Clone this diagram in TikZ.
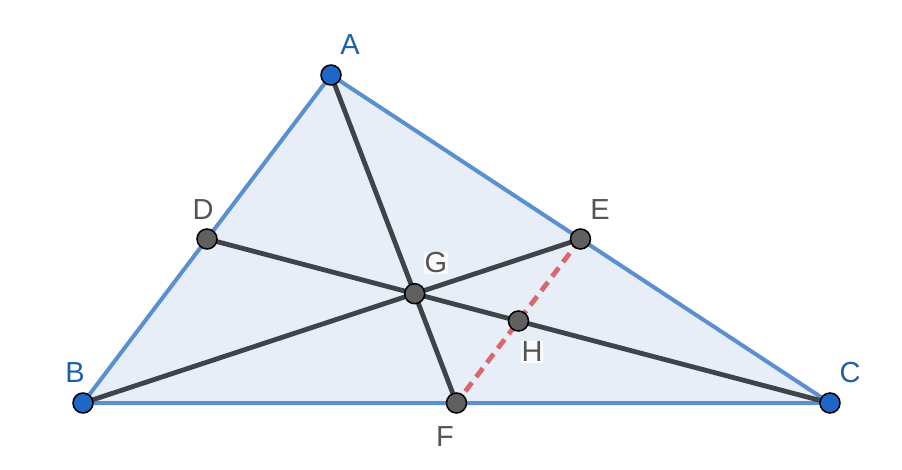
\documentclass[tikz,border=0pt]{standalone}
\usepackage{fontspec}
\setmainfont{Liberation Sans}
\begin{document}
\begin{tikzpicture}[x=1pt,y=-1pt,
  bluept/.style={circle,draw=black,line width=1.5pt,fill=ptblue,inner sep=0pt,minimum size=20pt},
  graypt/.style={circle,draw=black,line width=1.5pt,fill=ptgray,inner sep=0pt,minimum size=20pt},
  side/.style={draw=sideblue,line width=4pt},
  median/.style={draw=medgray,line width=4.8pt},
  lbl/.style={font=\fontsize{29}{32}\selectfont,inner sep=1pt},
  bluelbl/.style={lbl,text=lblblue},
  graylbl/.style={lbl,text=lblgray,fill=white,fill opacity=0.8,text opacity=1}]
\definecolor{ptblue}{HTML}{1E66C8}
\definecolor{ptgray}{HTML}{606060}
\definecolor{sideblue}{HTML}{5B90D0}
\definecolor{medgray}{HTML}{404448}
\definecolor{fillblue}{HTML}{E8EEF8}
\definecolor{dashred}{HTML}{D9676B}
\definecolor{lblblue}{HTML}{1F5FA8}
\definecolor{lblgray}{HTML}{555555}
\useasboundingbox (0,0) rectangle (902,470);
\fill[white] (0,0) rectangle (902,470);
\coordinate (pA) at (331,75);
\coordinate (pB) at (83,403);
\coordinate (pC) at (830,403);
\coordinate (pD) at (207,239);
\coordinate (pE) at (580.5,239);
\coordinate (pF) at (456.5,403);
\coordinate (pG) at (414.7,293.7);
\coordinate (pH) at (518.5,321);
\fill[fillblue] (pA) -- (pB) -- (pC) -- cycle;
\draw[side,line join=round] (pA) -- (pB) -- (pC) -- cycle;
\draw[median] (pA) -- (pF);
\draw[median] (pB) -- (pE);
\draw[median] (pC) -- (pD);
\draw[draw=dashred,line width=4.8pt,dash pattern=on 11pt off 7pt] (pE) -- (pF);
\node[bluept] (A) at (pA) {};
\node[bluept] (B) at (pB) {};
\node[bluept] (C) at (pC) {};
\node[graypt] (D) at (pD) {};
\node[graypt] (E) at (pE) {};
\node[graypt] (F) at (pF) {};
\node[graypt] (G) at (pG) {};
\node[graypt] (H) at (pH) {};
\node[bluelbl] (lA) at (350,45) {A};
\node[bluelbl] (lB) at (75,373) {B};
\node[bluelbl] (lC) at (850,373) {C};
\node[graylbl] (lD) at (203,210) {D};
\node[graylbl] (lE) at (600,210) {E};
\node[graylbl] (lF) at (445,437) {F};
\node[graylbl] (lG) at (436,263) {G};
\node[graylbl] (lH) at (532,352) {H};
\end{tikzpicture}
\end{document}
